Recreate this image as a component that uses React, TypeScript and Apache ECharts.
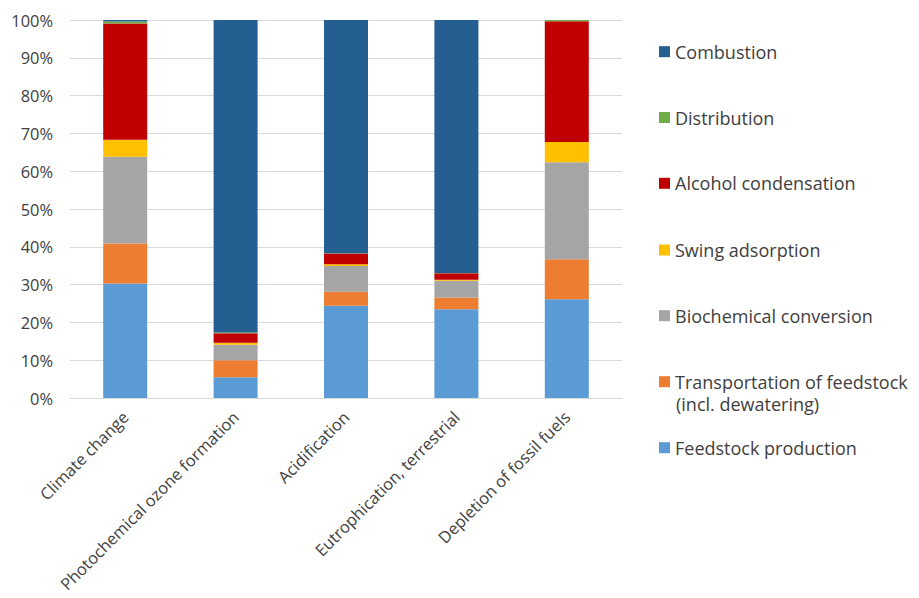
import React, { useEffect, useRef } from "react";
import * as echarts from "echarts";

const categories = [
  "Climate change",
  "Photochemical ozone formation",
  "Acidification",
  "Eutrophication, terrestrial",
  "Depletion of fossil fuels",
];
const feedstockProduction = [30.3, 5.5, 24.4, 23.5, 26.1];
const transportation = [10.6, 4.5, 3.7, 3.1, 10.6];
const biochemical = [22.9, 4.1, 6.8, 4.4, 25.7];
const swingAdsorption = [4.5, 0.5, 0.5, 0.3, 5.3];
const alcoholCondensation = [30.8, 2.5, 2.8, 1.7, 32.0];
const distribution = [0.5, 0.2, 0.1, 0.1, 0.3];
const combustion = [0.4, 82.7, 61.7, 66.9, 0.0];

const TRANSPORT = "Transportation of feedstock (incl. dewatering)";

const seriesDefs = [
  { name: "Feedstock production", data: feedstockProduction, color: "#5B9BD5" },
  { name: TRANSPORT, data: transportation, color: "#ED7D31" },
  { name: "Biochemical conversion", data: biochemical, color: "#A5A5A5" },
  { name: "Swing adsorption", data: swingAdsorption, color: "#FFC000" },
  { name: "Alcohol condensation", data: alcoholCondensation, color: "#C00000" },
  { name: "Distribution", data: distribution, color: "#70AD47" },
  { name: "Combustion", data: combustion, color: "#255E91" },
];

const legendOrder = [
  "Combustion",
  "Distribution",
  "Alcohol condensation",
  "Swing adsorption",
  "Biochemical conversion",
  TRANSPORT,
  "Feedstock production",
];
const legendCenters = [51.7, 117.5, 183.3, 250, 315.7, 381.7, 447.7];

const FONT = "'Open Sans', sans-serif";

export default function App() {
  const ref = useRef<HTMLDivElement>(null);
  useEffect(() => {
    if (!ref.current) return;
    const chart = echarts.init(ref.current, undefined, { renderer: "svg" });
    const legends = legendOrder.map((name, i) => ({
      data: [name],
      left: 659,
      top: legendCenters[i] - 11,
      padding: 0,
      icon: "rect",
      itemWidth: 11,
      itemHeight: 11,
      selectedMode: false,
      formatter: (n: string) => (n === TRANSPORT ? "Transportation of feedstock" : n),
      textStyle: { fontFamily: FONT, fontSize: 18, color: "#404040", lineHeight: 22 },
    }));
    chart.setOption({
      animation: false,
      backgroundColor: "#ffffff",
      grid: { left: 70, right: 297, top: 20, bottom: 200, containLabel: false },
      legend: legends,
      graphic: [
        {
          type: "text",
          left: 676,
          top: 395,
          style: {
            text: "(incl. dewatering)",
            fontFamily: FONT,
            fontSize: 18,
            fill: "#404040",
          },
        },
      ],
      xAxis: {
        type: "category",
        data: categories,
        axisLine: { show: true, lineStyle: { color: "#D9D9D9", width: 1 } },
        axisTick: { show: false },
        axisLabel: {
          rotate: 45,
          interval: 0,
          margin: 16,
          fontFamily: FONT,
          fontSize: 16.4,
          color: "#404040",
        },
      },
      yAxis: {
        type: "value",
        min: 0,
        max: 100,
        interval: 10,
        axisLine: { show: false },
        axisTick: { show: false },
        splitLine: { lineStyle: { color: "#D9D9D9", width: 1 } },
        axisLabel: {
          formatter: "{value}%",
          fontFamily: FONT,
          fontSize: 16.4,
          color: "#404040",
          margin: 17,
        },
      },
      series: seriesDefs.map((s) => ({
        name: s.name,
        type: "bar",
        stack: "total",
        data: s.data,
        barWidth: 44,
        itemStyle: { color: s.color },
      })),
    });
    return () => chart.dispose();
  }, []);
  return <div ref={ref} style={{ width: 919, height: 598, margin: -8 }} />;
}
